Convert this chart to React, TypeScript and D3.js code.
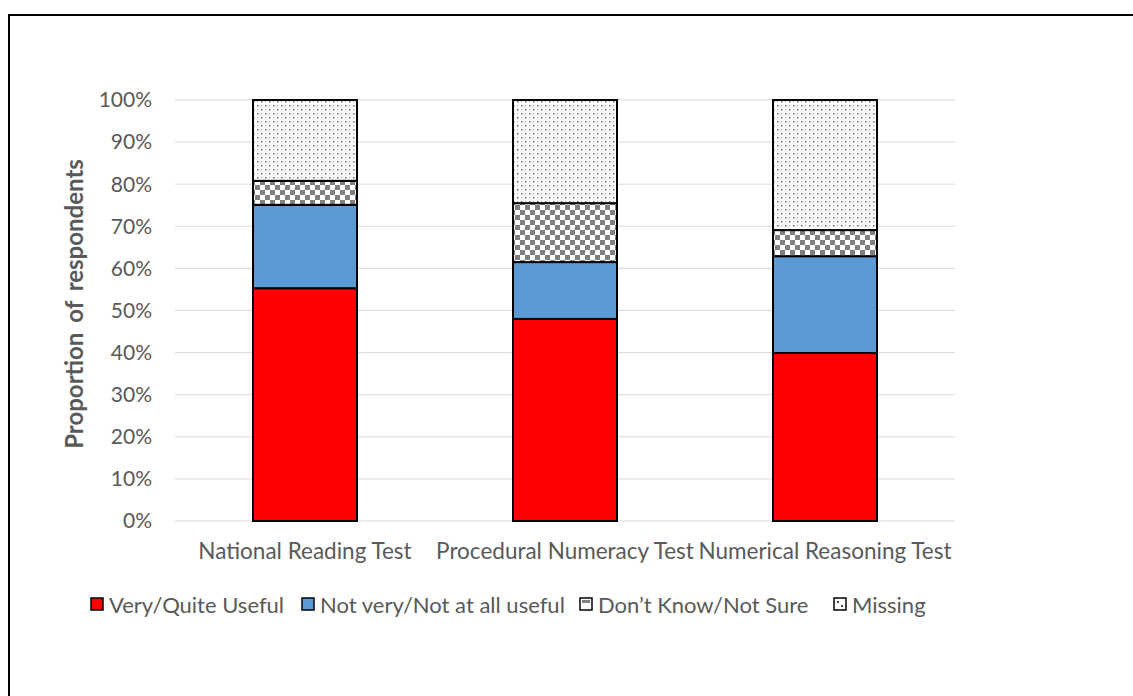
import { useEffect, useRef } from "react";
import * as d3 from "d3";

const categories = [
  "National Reading Test",
  "Procedural Numeracy Test",
  "Numerical Reasoning Test",
];
const seriesNames = [
  "Very/Quite Useful",
  "Not very/Not at all useful",
  "Don\u2019t Know/Not Sure",
  "Missing",
];
const veryUseful = [55.3, 48.0, 39.9];
const notUseful = [19.8, 13.5, 23.0];
const dontKnow = [5.7, 14.0, 6.2];
const missing = [19.2, 24.5, 30.9];
const yTicks = [0, 10, 20, 30, 40, 50, 60, 70, 80, 90, 100];

const fills = ["#ff0000", "#5b9bd5", "url(#checker)", "url(#dots)"];
const FONT = "Lato, 'Open Sans', sans-serif";

function App() {
  const svgRef = useRef<SVGSVGElement>(null);

  useEffect(() => {
    const width = 1133;
    const height = 696;
    const margin = { top: 100, right: 178, bottom: 175, left: 175 };

    const svg = d3.select(svgRef.current).attr("width", width).attr("height", height);
    svg.selectAll("*").remove();

    const defs = svg.append("defs");
    const checker = defs
      .append("pattern")
      .attr("id", "checker")
      .attr("patternUnits", "userSpaceOnUse")
      .attr("width", 10)
      .attr("height", 10);
    checker.append("rect").attr("width", 10).attr("height", 10).attr("fill", "#fff");
    checker.append("rect").attr("width", 5).attr("height", 5).attr("fill", "#7f7f7f");
    checker.append("rect").attr("x", 5).attr("y", 5).attr("width", 5).attr("height", 5).attr("fill", "#7f7f7f");

    const dots = defs
      .append("pattern")
      .attr("id", "dots")
      .attr("patternUnits", "userSpaceOnUse")
      .attr("width", 8)
      .attr("height", 8);
    dots.append("rect").attr("width", 8).attr("height", 8).attr("fill", "#fff");
    dots.append("rect").attr("x", 1).attr("y", 1).attr("width", 1.5).attr("height", 1.5).attr("fill", "#666");
    dots.append("rect").attr("x", 5).attr("y", 5).attr("width", 1.5).attr("height", 1.5).attr("fill", "#666");
    dots.append("rect").attr("x", 5).attr("y", 1).attr("width", 1).attr("height", 1).attr("fill", "#aaa");
    dots.append("rect").attr("x", 1).attr("y", 5).attr("width", 1).attr("height", 1).attr("fill", "#aaa");

    // outer frame (only left + top edges are visible)
    svg
      .append("path")
      .attr("d", `M9,${height} V15 H${width}`)
      .attr("fill", "none")
      .attr("stroke", "#000")
      .attr("stroke-width", 2);

    const x = d3
      .scaleBand()
      .domain(categories)
      .range([margin.left, width - margin.right])
      .paddingInner(0.6)
      .paddingOuter(0.3);

    const y = d3
      .scaleLinear()
      .domain([0, 100])
      .range([height - margin.bottom, margin.top]);

    svg
      .append("g")
      .selectAll("line")
      .data(yTicks)
      .join("line")
      .attr("x1", margin.left)
      .attr("x2", width - margin.right)
      .attr("y1", (d) => y(d))
      .attr("y2", (d) => y(d))
      .attr("stroke", "#d9d9d9")
      .attr("stroke-width", 1);

    svg
      .append("g")
      .selectAll("text")
      .data(yTicks)
      .join("text")
      .attr("x", 152)
      .attr("y", (d) => y(d))
      .attr("dy", "0.35em")
      .attr("text-anchor", "end")
      .attr("font-family", FONT)
      .attr("font-size", 21)
      .attr("fill", "#595959")
      .text((d) => `${d}%`);

    const table = categories.map((c, i) => ({
      cat: c,
      s0: veryUseful[i],
      s1: notUseful[i],
      s2: dontKnow[i],
      s3: missing[i],
    }));
    const stacked = d3.stack<any>().keys(["s0", "s1", "s2", "s3"])(table);

    stacked.forEach((layer, li) => {
      svg
        .append("g")
        .selectAll("rect")
        .data(layer)
        .join("rect")
        .attr("x", (d) => x(d.data.cat)!)
        .attr("width", x.bandwidth())
        .attr("y", (d) => y(d[1]))
        .attr("height", (d) => y(d[0]) - y(d[1]))
        .attr("fill", fills[li])
        .attr("stroke", "#000")
        .attr("stroke-width", 2);
    });

    svg
      .append("g")
      .selectAll("text")
      .data(categories)
      .join("text")
      .attr("x", (d) => x(d)! + x.bandwidth() / 2)
      .attr("y", 551)
      .attr("dy", "0.35em")
      .attr("text-anchor", "middle")
      .attr("font-family", FONT)
      .attr("font-size", 22.5)
      .attr("fill", "#595959")
      .text((d) => d);

    svg
      .append("text")
      .attr("transform", `translate(75,304) rotate(-90)`)
      .attr("text-anchor", "middle")
      .attr("dy", "0.35em")
      .attr("font-family", FONT)
      .attr("font-size", 24)
      .attr("font-weight", "bold")
      .attr("word-spacing", 4)
      .attr("fill", "#595959")
      .text("Proportion of respondents");

    const legendX = [91, 302, 580, 834];
    const legend = svg.append("g");
    seriesNames.forEach((name, i) => {
      legend
        .append("rect")
        .attr("x", legendX[i])
        .attr("y", 598)
        .attr("width", 12)
        .attr("height", 12)
        .attr("fill", i < 2 ? fills[i] : "#fff")
        .attr("stroke", "#000")
        .attr("stroke-width", 1.5);
      if (i === 2) {
        legend.append("rect").attr("x", legendX[i] + 2).attr("y", 600).attr("width", 8).attr("height", 3).attr("fill", "#7f7f7f");
      }
      if (i === 3) {
        legend.append("rect").attr("x", legendX[i] + 3).attr("y", 601).attr("width", 2).attr("height", 2).attr("fill", "#444");
        legend.append("rect").attr("x", legendX[i] + 7).attr("y", 605).attr("width", 2).attr("height", 2).attr("fill", "#444");
      }
      legend
        .append("text")
        .attr("x", legendX[i] + 18)
        .attr("y", 605)
        .attr("dy", "0.35em")
        .attr("font-family", FONT)
        .attr("font-size", 22)
        .attr("fill", "#595959")
        .text(name);
    });
  }, []);

  return (
    <svg
      ref={svgRef}
      style={{ position: "absolute", left: 0, top: 0, background: "#fff" }}
    ></svg>
  );
}

export default App;
